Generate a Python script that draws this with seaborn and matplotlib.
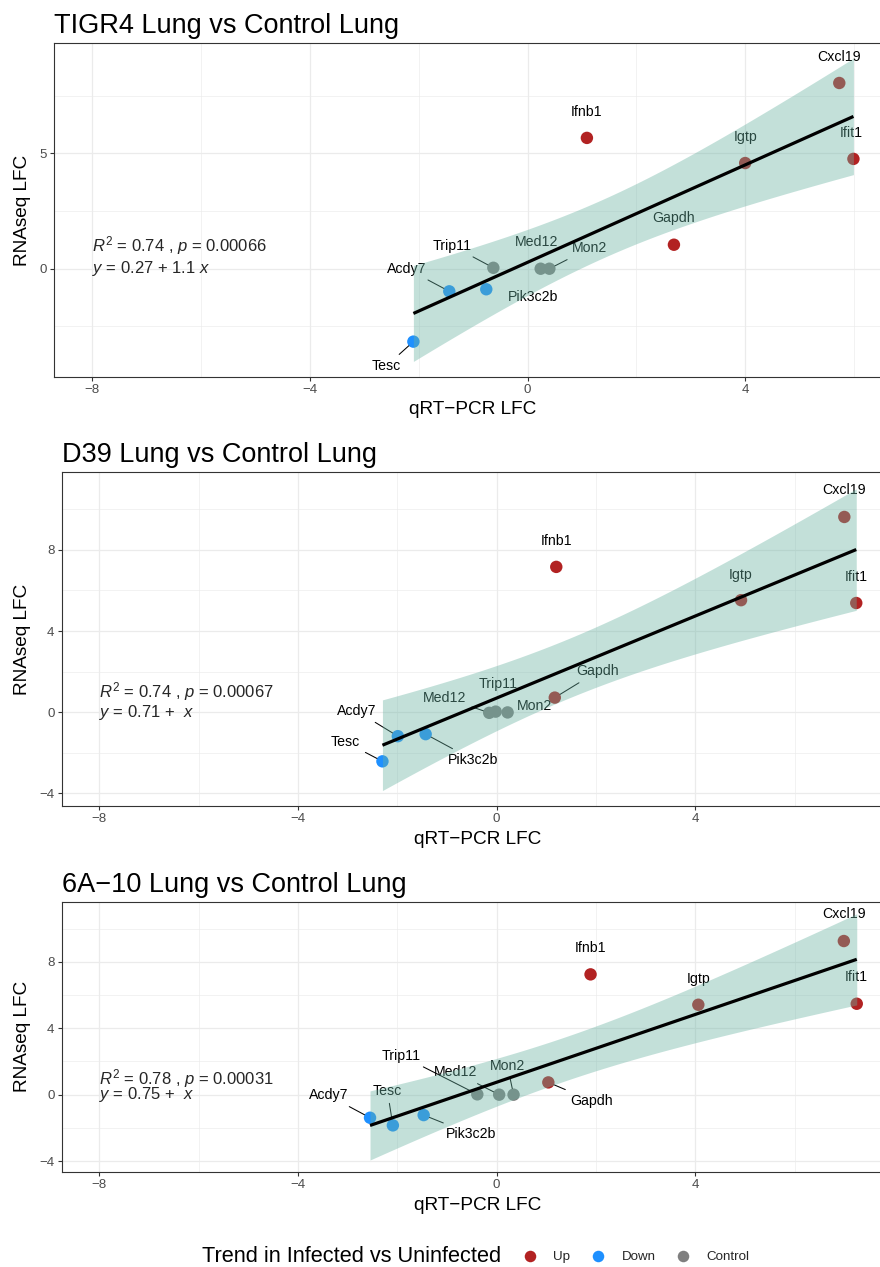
import numpy as np
import pandas as pd
import matplotlib
matplotlib.use("Agg")
import matplotlib.pyplot as plt
from matplotlib.lines import Line2D
import seaborn as sns

# ---------------- data ----------------
genes = ["Cxcl19", "Ifit1", "Ifnb1", "Igtp", "Gapdh", "Trip11", "Med12", "Mon2",
         "Acdy7", "Pik3c2b", "Tesc"]
trend = ["Up", "Up", "Up", "Up", "Up", "Control", "Control", "Control",
         "Down", "Down", "Down"]

tigr4_qpcr = [5.73, 5.99, 1.09, 4.00, 2.69, -0.63, 0.24, 0.40, -1.44, -0.76, -2.10]
tigr4_rnaseq = [8.05, 4.76, 5.67, 4.58, 1.04, 0.04, 0.00, 0.00, -0.98, -0.89, -3.16]

d39_qpcr = [7.00, 7.24, 1.20, 4.92, 1.17, -0.02, -0.15, 0.22, -1.99, -1.43, -2.30]
d39_rnaseq = [9.62, 5.38, 7.16, 5.52, 0.72, 0.03, -0.03, -0.01, -1.18, -1.08, -2.42]

a610_qpcr = [6.99, 7.25, 1.89, 4.06, 1.04, -0.39, 0.05, 0.34, -2.55, -1.47, -2.09]
a610_rnaseq = [9.26, 5.48, 7.25, 5.42, 0.74, 0.02, 0.00, 0.00, -1.39, -1.23, -1.85]

# repelled label positions (data units) and whether a connector segment is drawn
tigr4_label_x = [5.73, 5.96, 1.09, 4.00, 2.68, -1.39, 0.17, 1.13, -2.22, 0.10, -2.60]
tigr4_label_y = [9.19, 5.90, 6.78, 5.72, 2.18, 1.00, 1.14, 0.88, 0.00, -1.21, -4.22]
tigr4_segment = [0, 0, 0, 0, 0, 1, 0, 1, 1, 0, 1]

d39_label_x = [7.00, 7.24, 1.20, 4.92, 2.03, 0.03, -1.04, 0.76, -2.82, -0.47, -3.04]
d39_label_y = [10.93, 6.65, 8.46, 6.76, 2.01, 1.37, 0.72, 0.29, 0.06, -2.35, -1.47]
d39_segment = [0, 0, 0, 0, 1, 0, 1, 0, 1, 1, 1]

a610_label_x = [7.00, 7.24, 1.89, 4.06, 1.91, -1.92, -0.83, 0.22, -3.39, -0.52, -2.20]
a610_label_y = [10.90, 7.09, 8.84, 7.00, -0.36, 2.35, 1.34, 1.70, -0.04, -2.37, 0.22]
a610_segment = [0, 0, 0, 0, 1, 1, 1, 1, 1, 1, 1]

titles = ["TIGR4 Lung vs Control Lung", "D39 Lung vs Control Lung",
          "6A\u221210 Lung vs Control Lung"]
stat_labels = [r"$R^2$ = 0.74 , $p$ = 0.00066",
               r"$R^2$ = 0.74 , $p$ = 0.00067",
               r"$R^2$ = 0.78 , $p$ = 0.00031"]
eq_labels = [r"$y$ = 0.27 + 1.1 $x$",
             r"$y$ = 0.71 +  $x$",
             r"$y$ = 0.75 +  $x$"]
trend_levels = ["Up", "Down", "Control"]
palette = {"Up": "#B22222", "Down": "#1E90FF", "Control": "#7F7F7F"}
T975_DF9 = 2.262157  # t quantile for 95% CI with n-2 = 9 df

# ---------------- style ----------------
sns.set_style("white")
plt.rcParams["font.family"] = ["Liberation Sans", "DejaVu Sans"]
plt.rcParams["mathtext.fontset"] = "custom"
plt.rcParams["mathtext.rm"] = "Liberation Sans"
plt.rcParams["mathtext.it"] = "Liberation Sans:italic"
plt.rcParams["mathtext.bf"] = "Liberation Sans:bold"
plt.rcParams["axes.unicode_minus"] = True

W, H = 880, 1267
fig = plt.figure(figsize=(W / 100, H / 100), dpi=100)


def frac_rect(left, right, top, bottom):
    return [left / W, 1 - bottom / H, (right - left) / W, (bottom - top) / H]


layouts = [
    dict(rect=frac_rect(54.4, 891.5, 43.3, 376.7), xlim=(-8.70, 6.69), ylim=(-4.68, 9.77),
         yt=[0, 5], ymin=[-2.5, 2.5, 7.5]),
    dict(rect=frac_rect(61.6, 894.0, 472.3, 806.0), xlim=(-8.76, 8.00), ylim=(-4.62, 11.82),
         yt=[-4, 0, 4, 8], ymin=[-2, 2, 6, 10]),
    dict(rect=frac_rect(61.6, 894.5, 901.7, 1172.0), xlim=(-8.76, 8.01), ylim=(-4.66, 11.63),
         yt=[-4, 0, 4, 8], ymin=[-2, 2, 6, 10]),
]

datasets = [
    (tigr4_qpcr, tigr4_rnaseq, tigr4_label_x, tigr4_label_y, tigr4_segment),
    (d39_qpcr, d39_rnaseq, d39_label_x, d39_label_y, d39_segment),
    (a610_qpcr, a610_rnaseq, a610_label_x, a610_label_y, a610_segment),
]

for i, (lay, (qx, ry, lx, ly, seg)) in enumerate(zip(layouts, datasets)):
    ax = fig.add_axes(lay["rect"])
    df = pd.DataFrame({"gene": genes, "trend": trend, "qpcr": qx, "rnaseq": ry})

    # points (under the ribbon)
    sns.scatterplot(data=df, x="qpcr", y="rnaseq", hue="trend", hue_order=trend_levels,
                    palette=palette, s=80, linewidth=0, legend=False, ax=ax, zorder=2)

    # gene labels with connectors
    for g, px, py, tx, ty, sg in zip(genes, qx, ry, lx, ly, seg):
        kw = {}
        if sg:
            kw["arrowprops"] = dict(arrowstyle="-", color="black", lw=0.75,
                                    shrinkA=1.5, shrinkB=4.5)
        ax.annotate(g, xy=(px, py), xytext=(tx, ty), textcoords="data",
                    ha="center", va="center", fontsize=10.2, color="black",
                    zorder=3, **kw)

    # regression confidence ribbon
    x = np.asarray(qx, float)
    y = np.asarray(ry, float)
    b1, b0 = np.polyfit(x, y, 1)
    xs = np.linspace(x.min(), x.max(), 80)
    yhat = b0 + b1 * xs
    resid = y - (b0 + b1 * x)
    s = np.sqrt(np.sum(resid ** 2) / (len(x) - 2))
    se = s * np.sqrt(1 / len(x) + (xs - x.mean()) ** 2 / np.sum((x - x.mean()) ** 2))
    ax.fill_between(xs, yhat - T975_DF9 * se, yhat + T975_DF9 * se,
                    color="#69b3a2", alpha=0.4, linewidth=0, zorder=4)

    # regression line
    sns.regplot(data=df, x="qpcr", y="rnaseq", scatter=False, ci=None, truncate=True,
                ax=ax, line_kws=dict(color="black", lw=2.3, zorder=5,
                                     solid_capstyle="butt"))

    # stats text
    ax.text(-8, 1, stat_labels[i], ha="left", va="center", fontsize=12, zorder=3)
    ax.text(-8, 0, eq_labels[i], ha="left", va="center", fontsize=12, zorder=3)

    # axes styling
    ax.set_xlim(*lay["xlim"])
    ax.set_ylim(*lay["ylim"])
    ax.set_xticks([-8, -4, 0, 4])
    ax.set_xticks([-6, -2, 2, 6], minor=True)
    ax.set_yticks(lay["yt"])
    ax.set_yticks(lay["ymin"], minor=True)
    ax.grid(True, which="major", color="#EBEBEB", lw=0.9, zorder=0)
    ax.grid(True, which="minor", color="#EBEBEB", lw=0.45, zorder=0)
    ax.set_axisbelow(True)
    for sp in ax.spines.values():
        sp.set_visible(True)
        sp.set_color("#333333")
        sp.set_linewidth(0.8)
    ax.tick_params(which="major", direction="out", length=2.9, width=0.8, color="#333333",
                   labelsize=9.6, labelcolor="#4D4D4D", pad=2.2,
                   bottom=True, left=True)
    ax.tick_params(which="minor", length=0)

    ax.set_title(titles[i], loc="left", fontsize=19.5, pad=7.3, color="black")

    rect = lay["rect"]
    ax.set_xlabel("qRT\u2212PCR LFC", fontsize=13.7, color="black")
    ax.xaxis.label.set_va("baseline")
    ax.xaxis.set_label_coords(rect[0] + rect[2] / 2, rect[1] - 37.8 / H,
                              transform=fig.transFigure)
    ax.set_ylabel("RNAseq LFC", fontsize=13.7, color="black")
    ax.yaxis.label.set_va("center")
    ax.yaxis.set_label_coords(22.4 / W, rect[1] + rect[3] / 2, transform=fig.transFigure)

# ---------------- legend ----------------
legend_y = 1 - 1257 / H
fig.text(201.8 / W, legend_y, "Trend in Infected vs Uninfected", ha="left", va="center",
         fontsize=15.7, color="black")
handles = [Line2D([0], [0], marker="o", linestyle="", markersize=8.3,
                  markerfacecolor=palette[t], markeredgewidth=0) for t in trend_levels]
fig.legend(handles, trend_levels, loc="center left",
           bbox_to_anchor=(523.6 / W, legend_y), ncol=3, frameon=False,
           handlelength=1.0, handletextpad=1.23, columnspacing=1.6,
           borderpad=0, borderaxespad=0, fontsize=9.6)

fig.savefig("out.png", dpi=100)
